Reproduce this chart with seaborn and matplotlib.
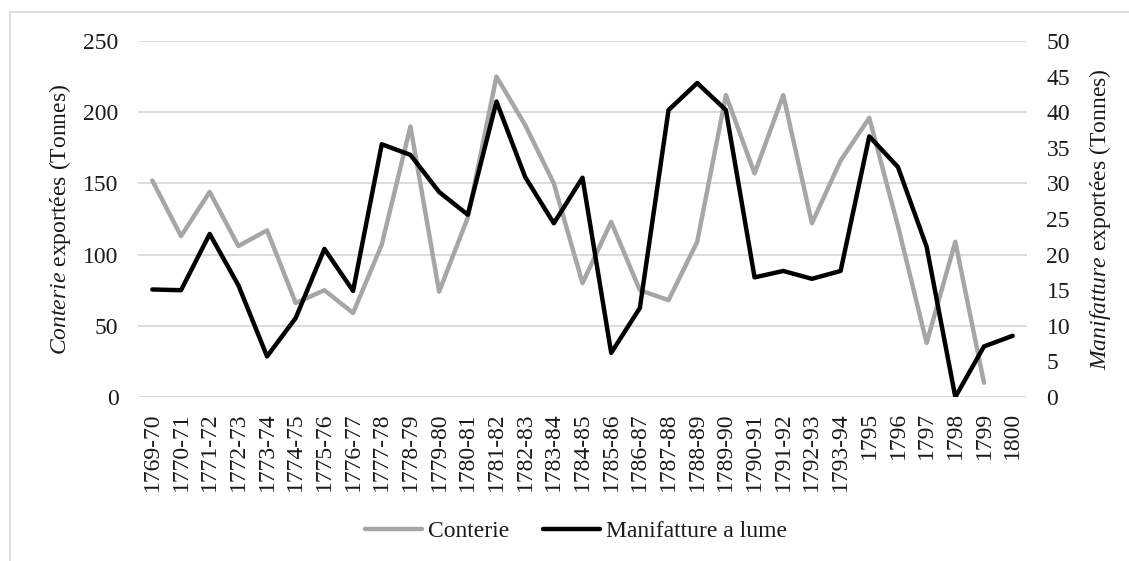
import numpy as np
import pandas as pd
import matplotlib
matplotlib.use("Agg")
from matplotlib import pyplot as plt
from matplotlib.patches import Rectangle
from matplotlib.lines import Line2D
import seaborn as sns

periodes = ['1769-70', '1770-71', '1771-72', '1772-73', '1773-74', '1774-75',
            '1775-76', '1776-77', '1777-78', '1778-79', '1779-80', '1780-81',
            '1781-82', '1782-83', '1783-84', '1784-85', '1785-86', '1786-87',
            '1787-88', '1788-89', '1789-90', '1790-91', '1791-92', '1792-93',
            '1793-94', '1795', '1796', '1797', '1798', '1799', '1800']

# tonnes, left axis (no value for 1800)
conterie = [152, 113, 144, 106, 117, 66, 75, 59, 107, 190, 74, 126,
            225, 191, 150, 80, 123, 75, 68, 109, 212, 157, 212, 122,
            166, 196, 120, 38, 109, 10, np.nan]

# tonnes, right axis
manifatture = [15.1, 15.0, 22.9, 15.7, 5.7, 11.1, 20.8, 14.9, 35.5, 34.0,
               28.8, 25.6, 41.5, 30.9, 24.4, 30.8, 6.2, 12.5, 40.3, 44.1,
               40.3, 16.8, 17.7, 16.6, 17.7, 36.6, 32.3, 21.1, 0.0, 7.1, 8.6]

df = pd.DataFrame({'periode': periodes, 'conterie': conterie,
                   'manifatture': manifatture})
df['pos'] = np.arange(len(df))

sns.set_theme(style="white")
plt.rcParams['font.family'] = ['Liberation Serif', 'DejaVu Serif']
plt.rcParams['mathtext.fontset'] = 'custom'
plt.rcParams['mathtext.rm'] = 'Liberation Serif'
plt.rcParams['mathtext.it'] = 'Liberation Serif:italic'

grey = '#a6a6a6'
txt = '#1a1a1a'
fs = 17

fig = plt.figure(figsize=(11.29, 5.61), dpi=100)
ax = fig.add_axes([138 / 1129, 1 - 397 / 561, 889 / 1129, 356 / 561])
ax2 = ax.twinx()

sns.lineplot(data=df, x='pos', y='conterie', ax=ax, color=grey, lw=3.2)
sns.lineplot(data=df, x='pos', y='manifatture', ax=ax2, color='black', lw=3.2)

ax.set_xlim(-0.5, len(df) - 0.5)
ax.set_ylim(0, 250)
ax2.set_ylim(0, 50)
ax.set_yticks(range(0, 251, 50))
ax2.set_yticks(range(0, 51, 5))
ax.set_xticks(df['pos'])
ax.set_xticklabels(df['periode'], rotation=90)

ax.yaxis.grid(True, color='#d9d9d9', lw=1.3)
ax.set_axisbelow(True)
for a in (ax, ax2):
    for s in a.spines.values():
        s.set_visible(False)
    a.tick_params(length=0, labelsize=fs, labelcolor=txt)
ax.tick_params(axis='y', pad=14)
ax2.tick_params(axis='y', pad=14)
ax.tick_params(axis='x', pad=11)

ax.set_xlabel('')
ax.set_ylabel(r'$\mathit{Conterie}$ exportées (Tonnes)', fontsize=fs, color=txt, labelpad=7)
ax2.set_ylabel(r'$\mathit{Manifatture}$ exportées (Tonnes)', fontsize=fs, color=txt, labelpad=12)

handles = [Line2D([], [], color=grey, lw=3.2), Line2D([], [], color='black', lw=3.2)]
fig.legend(handles, ['Conterie', 'Manifatture a lume'], loc='center',
           bbox_to_anchor=(576 / 1129, 1 - 531 / 561), ncol=2, frameon=False,
           fontsize=fs, handlelength=2.4, handletextpad=0.25, columnspacing=1.45,
           labelcolor=txt)

# chart border
fig.patches.append(Rectangle((10 / 1129, -0.05), 1.1, 1 - 12 / 561 + 0.05,
                             transform=fig.transFigure, fill=False,
                             edgecolor='#d9d9d9', lw=1.2))

fig.savefig('out.png', dpi=100)
